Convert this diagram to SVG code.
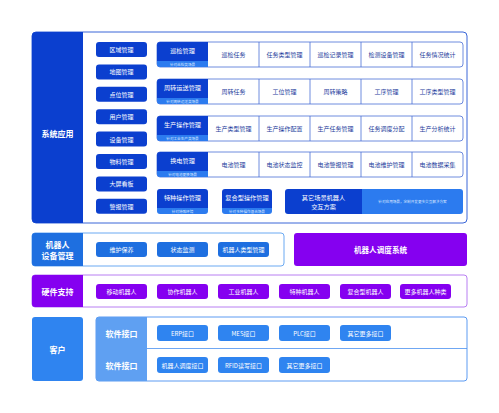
<svg xmlns="http://www.w3.org/2000/svg" width="499" height="413" viewBox="0 0 499 413">
<style>
text{font-family:"Noto Sans CJK SC","Noto Sans",sans-serif;text-anchor:middle;dominant-baseline:central}
.dk{fill:#0b3fcf}
.lt{fill:#2c7bef}
.wt{fill:#ffffff}
.lab{font-size:8px;font-weight:bold;fill:#fff}
.btn{font-size:6px;fill:#fff}
.hd{font-size:6.2px;fill:#fff}
.sub{font-size:3.6px;fill:#dbe8ff}
.cell{font-size:6px;fill:#1c3c9c}
.rowbox{fill:#fff;stroke:#4a6fd6;stroke-width:0.8}
.vl{stroke:#4a6fd6;stroke-width:0.8}
.b1{fill:#0b3fcf}
.b2{fill:#1e6fe0}
.b3{fill:#8500f0}
.b4{fill:#2f84f0}
</style>
<rect width="499" height="413" fill="#ffffff"/>

<!-- 系统应用 -->
<g id="sys">
<rect x="32" y="32" width="435" height="191" rx="4" fill="#fff" stroke="#3a66d8" stroke-width="1"/>
<path d="M36 32 H83 V223 H36 Q32 223 32 219 V36 Q32 32 36 32 Z" class="dk"/>
<text x="57.5" y="133" class="lab">系统应用</text>
</g>
<g id="sys-left">
<rect x="96" y="42" width="51" height="15" rx="3" class="b1"/><text x="121.5" y="49.5" class="btn">区域管理</text>
<rect x="96" y="64.4" width="51" height="15" rx="3" class="b1"/><text x="121.5" y="71.9" class="btn">地图管理</text>
<rect x="96" y="86.8" width="51" height="15" rx="3" class="b1"/><text x="121.5" y="94.3" class="btn">点位管理</text>
<rect x="96" y="109.2" width="51" height="15" rx="3" class="b1"/><text x="121.5" y="116.7" class="btn">用户管理</text>
<rect x="96" y="131.6" width="51" height="15" rx="3" class="b1"/><text x="121.5" y="139.1" class="btn">设备管理</text>
<rect x="96" y="154" width="51" height="15" rx="3" class="b1"/><text x="121.5" y="161.5" class="btn">物料管理</text>
<rect x="96" y="176.4" width="51" height="15" rx="3" class="b1"/><text x="121.5" y="183.9" class="btn">大屏看板</text>
<rect x="96" y="198.8" width="51" height="15" rx="3" class="b1"/><text x="121.5" y="206.3" class="btn">警报管理</text>
</g>

<g id="row-xunjian">
<rect x="157" y="42" width="306" height="25" rx="3" class="rowbox"/>
<path d="M160 42 H208 V61 H157 V45 Q157 42 160 42 Z" class="dk"/>
<path d="M157 61 H208 V67 H160 Q157 67 157 64 Z" class="lt"/>
<text x="182.5" y="50.5" class="hd">巡检管理</text>
<text x="182.5" y="64" class="sub">针对巡检类场景</text>
<line x1="259" y1="42" x2="259" y2="67" class="vl"/><line x1="310" y1="42" x2="310" y2="67" class="vl"/><line x1="361" y1="42" x2="361" y2="67" class="vl"/><line x1="412" y1="42" x2="412" y2="67" class="vl"/>
<text x="233.5" y="54.5" class="cell">巡检任务</text>
<text x="284.5" y="54.5" class="cell">任务类型管理</text>
<text x="335.5" y="54.5" class="cell">巡检记录管理</text>
<text x="386.5" y="54.5" class="cell">检测设备管理</text>
<text x="437.5" y="54.5" class="cell">任务情况统计</text>
</g>

<g id="row-zhouzhuan">
<rect x="157" y="79" width="306" height="25" rx="3" class="rowbox"/>
<path d="M160 79 H208 V98 H157 V82 Q157 79 160 79 Z" class="dk"/>
<path d="M157 98 H208 V104 H160 Q157 104 157 101 Z" class="lt"/>
<text x="182.5" y="87.5" class="hd">周转运送管理</text>
<text x="182.5" y="101" class="sub">针对周转运送类场景</text>
<line x1="259" y1="79" x2="259" y2="104" class="vl"/><line x1="310" y1="79" x2="310" y2="104" class="vl"/><line x1="361" y1="79" x2="361" y2="104" class="vl"/><line x1="412" y1="79" x2="412" y2="104" class="vl"/>
<text x="233.5" y="91.5" class="cell">周转任务</text>
<text x="284.5" y="91.5" class="cell">工位管理</text>
<text x="335.5" y="91.5" class="cell">周转策略</text>
<text x="386.5" y="91.5" class="cell">工序管理</text>
<text x="437.5" y="91.5" class="cell">工序类型管理</text>
</g>

<g id="row-shengchan">
<rect x="157" y="116" width="306" height="25" rx="3" class="rowbox"/>
<path d="M160 116 H208 V135 H157 V119 Q157 116 160 116 Z" class="dk"/>
<path d="M157 135 H208 V141 H160 Q157 141 157 138 Z" class="lt"/>
<text x="182.5" y="124.5" class="hd">生产操作管理</text>
<text x="182.5" y="138" class="sub">针对工业生产类场景</text>
<line x1="259" y1="116" x2="259" y2="141" class="vl"/><line x1="310" y1="116" x2="310" y2="141" class="vl"/><line x1="361" y1="116" x2="361" y2="141" class="vl"/><line x1="412" y1="116" x2="412" y2="141" class="vl"/>
<text x="233.5" y="128.5" class="cell">生产类型管理</text>
<text x="284.5" y="128.5" class="cell">生产操作配置</text>
<text x="335.5" y="128.5" class="cell">生产任务管理</text>
<text x="386.5" y="128.5" class="cell">任务调度分配</text>
<text x="437.5" y="128.5" class="cell">生产分析统计</text>
</g>

<g id="row-huandian">
<rect x="157" y="152" width="306" height="25" rx="3" class="rowbox"/>
<path d="M160 152 H208 V171 H157 V155 Q157 152 160 152 Z" class="dk"/>
<path d="M157 171 H208 V177 H160 Q157 177 157 174 Z" class="lt"/>
<text x="182.5" y="160.5" class="hd">换电管理</text>
<text x="182.5" y="174" class="sub">针对电池更换场景</text>
<line x1="259" y1="152" x2="259" y2="177" class="vl"/><line x1="310" y1="152" x2="310" y2="177" class="vl"/><line x1="361" y1="152" x2="361" y2="177" class="vl"/><line x1="412" y1="152" x2="412" y2="177" class="vl"/>
<text x="233.5" y="164.5" class="cell">电池管理</text>
<text x="284.5" y="164.5" class="cell">电池状态监控</text>
<text x="335.5" y="164.5" class="cell">电池警报管理</text>
<text x="386.5" y="164.5" class="cell">电池维护管理</text>
<text x="437.5" y="164.5" class="cell">电池数据采集</text>
</g>

<g id="teshu">
<path d="M160 189 H205 Q208 189 208 192 V208 H157 V192 Q157 189 160 189 Z" class="dk"/>
<path d="M157 208 H208 V211 Q208 214 205 214 H160 Q157 214 157 211 Z" class="lt"/>
<text x="182.5" y="197.5" class="hd">特种操作管理</text>
<text x="182.5" y="211" class="sub">针对特殊环境</text>
</g>
<g id="fuhe">
<path d="M225 189 H269 Q272 189 272 192 V208 H222 V192 Q222 189 225 189 Z" class="dk"/>
<path d="M222 208 H272 V211 Q272 214 269 214 H225 Q222 214 222 211 Z" class="lt"/>
<text x="247" y="197.5" class="hd">复合型操作管理</text>
<text x="247" y="211" class="sub">针对多种操作混合场景</text>
</g>
<g id="qita">
<path d="M288 189 H362 V214 H288 Q285 214 285 211 V192 Q285 189 288 189 Z" class="dk"/>
<path d="M362 189 H460 Q463 189 463 192 V211 Q463 214 460 214 H362 Z" class="lt"/>
<text x="323.5" y="197.5" class="hd">其它场景机器人</text>
<text x="323.5" y="206" class="hd">交互方案</text>
<text x="412.5" y="201.5" class="sub">针对应用场景，定制开发更多交互解决方案</text>
</g>

<!-- 机器人设备管理 -->
<g id="device">
<rect x="32" y="233" width="252" height="33" rx="3" fill="#fff" stroke="#5a9ff0" stroke-width="0.9"/>
<path d="M35 233 H83 V266 H35 Q32 266 32 263 V236 Q32 233 35 233 Z" class="b2"/>
<text x="57.5" y="244" class="lab">机器人</text>
<text x="57.5" y="255" class="lab">设备管理</text>
<rect x="96" y="242" width="51" height="15" rx="3" class="b2"/><text x="121.5" y="249.5" class="btn">维护保养</text>
<rect x="157" y="242" width="51" height="15" rx="3" class="b2"/><text x="182.5" y="249.5" class="btn">状态监测</text>
<rect x="218" y="242" width="51" height="15" rx="3" class="b2"/><text x="243.5" y="249.5" class="btn">机器人类型管理</text>
</g>
<g id="dispatch">
<rect x="294" y="233" width="173" height="33" rx="3" class="b3"/>
<text x="380.5" y="249.5" style="font-size:7.6px;font-weight:bold;fill:#fff">机器人调度系统</text>
</g>

<!-- 硬件支持 -->
<g id="hardware">
<rect x="32" y="275" width="435" height="32" rx="3" fill="#fff" stroke="#b070f0" stroke-width="0.9"/>
<path d="M35 275 H83 V307 H35 Q32 307 32 304 V278 Q32 275 35 275 Z" class="b3"/>
<text x="57.5" y="291" class="lab">硬件支持</text>
<rect x="96" y="284" width="51" height="15" rx="3" class="b3"/><text x="121.5" y="291.5" class="btn">移动机器人</text>
<rect x="157" y="284" width="51" height="15" rx="3" class="b3"/><text x="182.5" y="291.5" class="btn">协作机器人</text>
<rect x="218" y="284" width="51" height="15" rx="3" class="b3"/><text x="243.5" y="291.5" class="btn">工业机器人</text>
<rect x="279" y="284" width="51" height="15" rx="3" class="b3"/><text x="304.5" y="291.5" class="btn">特种机器人</text>
<rect x="340" y="284" width="51" height="15" rx="3" class="b3"/><text x="365.5" y="291.5" class="btn">复合型机器人</text>
<rect x="400" y="284" width="51" height="15" rx="3" class="b3"/><text x="425.5" y="291.5" class="btn">更多机器人种类</text>
</g>

<!-- 客户 -->
<g id="customer">
<rect x="32" y="317" width="51" height="64" rx="3" class="b4"/>
<text x="57.5" y="349" class="lab">客户</text>
</g>
<g id="software">
<rect x="96" y="317" width="371" height="64" rx="3" fill="#fff" stroke="#4a90f0" stroke-width="0.9"/>
<path d="M99 317 H147 V381 H99 Q96 381 96 378 V320 Q96 317 99 317 Z" fill="#5fa0f2"/>
<line x1="147" y1="348.5" x2="467" y2="348.5" stroke="#4a90f0" stroke-width="0.8"/>
<text x="121.5" y="333" class="lab">软件接口</text>
<text x="121.5" y="365" class="lab">软件接口</text>
<rect x="157" y="325" width="51" height="16" rx="3" class="b4"/><text x="182.5" y="333" class="btn">ERP接口</text>
<rect x="218" y="325" width="51" height="16" rx="3" class="b4"/><text x="243.5" y="333" class="btn">MES接口</text>
<rect x="279" y="325" width="51" height="16" rx="3" class="b4"/><text x="304.5" y="333" class="btn">PLC接口</text>
<rect x="340" y="325" width="51" height="16" rx="3" class="b4"/><text x="365.5" y="333" class="btn">其它更多接口</text>
<rect x="157" y="357" width="51" height="16" rx="3" class="b4"/><text x="182.5" y="365" class="btn">机器人调度接口</text>
<rect x="218" y="357" width="51" height="16" rx="3" class="b4"/><text x="243.5" y="365" class="btn">RFID读写接口</text>
<rect x="279" y="357" width="51" height="16" rx="3" class="b4"/><text x="304.5" y="365" class="btn">其它更多接口</text>
</g>
</svg>
